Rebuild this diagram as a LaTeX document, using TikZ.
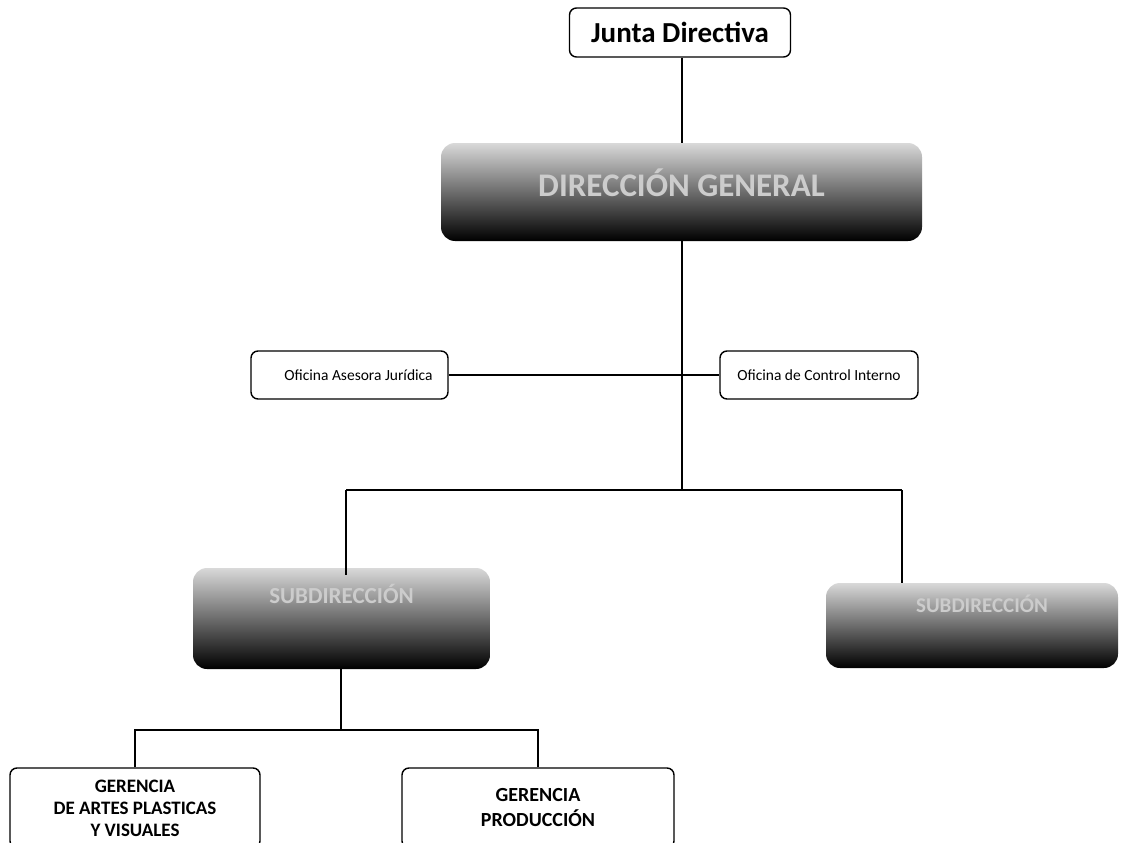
\documentclass[tikz,border=0pt]{standalone}
\usepackage{fontspec}
\setmainfont{Carlito}
\usetikzlibrary{positioning,calc}

\begin{document}
\begin{tikzpicture}[x=1pt,y=-1pt,
    bx/.style={draw,line width=1.4pt,rounded corners=7pt,align=center,inner sep=0pt},
    dk/.style={rounded corners=14pt,align=center,inner sep=0pt,top color=black!15,middle color=black!85,bottom color=black,
      text=white!80!black,font=\bfseries},
    ln/.style={line width=2pt}
]
\useasboundingbox (0,0) rectangle (1122,843);
\node[bx,minimum width=221pt,minimum height=49pt,font=\fontsize{29}{32}\selectfont\bfseries] (junta) at (680,32.5) {Junta Directiva};
\node[dk,minimum width=481pt,minimum height=98pt,font=\fontsize{33}{36}\selectfont\bfseries,
  text height=30pt,text depth=22pt] (dir) at (681.5,192) {DIRECCIÓN GENERAL};
\node[bx,minimum width=197pt,minimum height=48pt,font=\fontsize{15.5}{18}\selectfont] (ase) at (349.5,375) {\hspace*{18pt}Oficina Asesora Jurídica};
\node[bx,minimum width=198pt,minimum height=48pt,font=\fontsize{15.5}{18}\selectfont] (ctl) at (819,375) {Oficina de Control Interno};
\node[dk,minimum width=297pt,minimum height=101pt,font=\fontsize{23}{26}\selectfont\bfseries,
  text height=6pt,text depth=36pt] (sub1) at (341.5,618.5) {SUBDIRECCIÓN};
\node[dk,minimum width=292pt,minimum height=85pt,font=\fontsize{21}{24}\selectfont\bfseries,
  text height=4pt,text depth=31pt] (sub2) at (972,625.5) {\hspace*{20pt}SUBDIRECCIÓN};
\node[bx,minimum width=250pt,minimum height=80pt,font=\fontsize{19}{22}\selectfont\bfseries] (ger1) at (135,808) {GERENCIA\\DE ARTES PLASTICAS\\Y VISUALES};
\node[bx,minimum width=272pt,minimum height=80pt,font=\fontsize{20}{25}\selectfont\bfseries] (ger2) at (538,808) {GERENCIA\\PRODUCCIÓN};
\coordinate (hub) at (681.5,490);
\coordinate (brL) at (346,490);
\coordinate (brR) at (902,490);
\coordinate (fork) at (341,730);
% lines
\draw[ln] (junta.south -| dir.north) -- (dir.north);
\draw[ln] (dir.south) -- (hub);
\draw[ln] (ase.east) -- (ctl.west);
\draw[ln] (brL) -- (brR);
\draw[ln] (brL) -- ($(brL |- sub1.north)+(0,7)$);
\draw[ln] (brR) -- (brR |- sub2.north);
\draw[ln] (sub1.south -| fork) -- (fork);
\draw[ln] (ger1.north) |- (fork) -| (ger2.north);
\end{tikzpicture}
\end{document}
